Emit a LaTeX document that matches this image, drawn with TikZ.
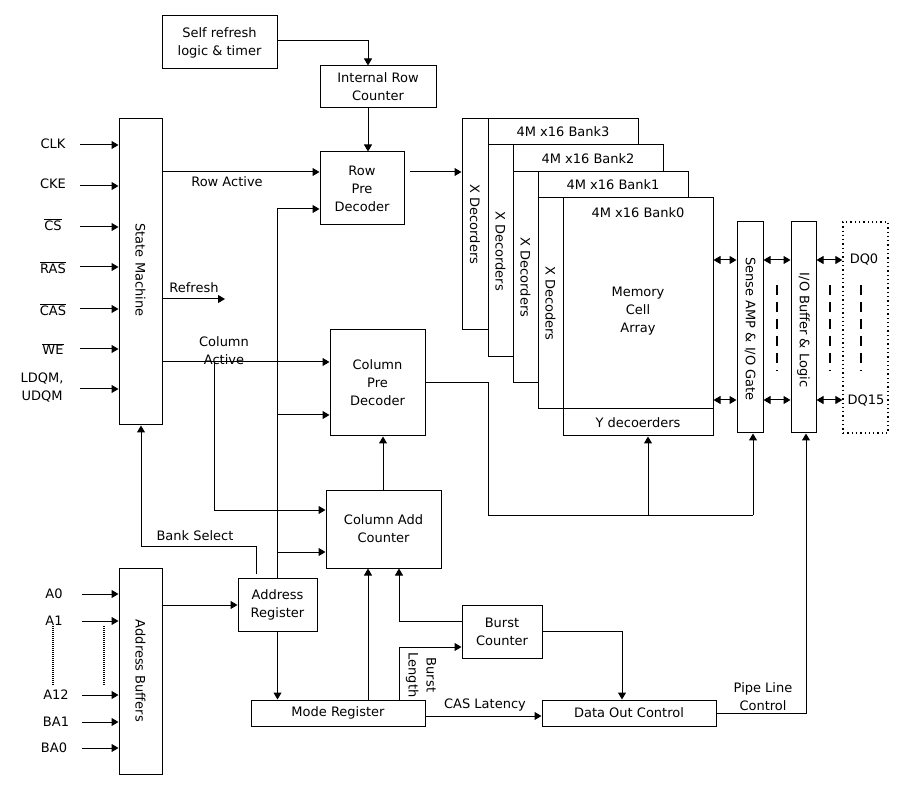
\documentclass[tikz,border=0pt]{standalone}
\usepackage{fontspec}
\setmainfont{DejaVu Sans}
\usetikzlibrary{arrows.meta}
\begin{document}
\begin{tikzpicture}[x=1pt,y=-1pt,
  every node/.style={font=\fontsize{13}{18}\selectfont},
  box/.style={draw, line width=1pt, fill=white, inner sep=0pt, align=center},
  conn/.style={line width=1pt},
  arr/.style={conn, -{Triangle[length=7pt,width=8pt]}},
  darr/.style={conn, {Triangle[length=7pt,width=8pt]}-{Triangle[length=7pt,width=8pt]}},
  lbl/.style={inner sep=0pt, align=center},
  vlbl/.style={lbl, rotate=-90},
  dqdash/.style={line width=2pt, dash pattern=on 10pt off 7pt},
  adots/.style={line width=1.5pt, dash pattern=on 1pt off 1pt},
]
\useasboundingbox (0,0) rectangle (916,791);

% ---- boxes ----
\node[box, minimum width=115pt, minimum height=53pt] (selfref) at (219.5,42.5) {Self refresh\\logic \& timer};
\node[box, minimum width=116pt, minimum height=42pt] (irc) at (378,87) {Internal Row\\Counter};
\node[box, minimum width=84pt, minimum height=73pt] (rpd) at (362,188.5) {Row\\Pre\\Decoder};
\node[box, minimum width=43pt, minimum height=306pt] (sm) at (140.5,272) {};
\node[vlbl] (smt) at (140.5,270) {State Machine};
\node[box, minimum width=95pt, minimum height=106pt] (cpd) at (377.5,383) {Column\\Pre\\Decoder};
\node[box, minimum width=115pt, minimum height=78pt] (cac) at (383.5,529) {Column Add\\Counter};
\node[box, minimum width=79pt, minimum height=53pt] (ar) at (277.5,604.5) {Address\\Register};
\node[box, minimum width=43pt, minimum height=206pt] (ab) at (140.5,671) {};
\node[vlbl] (abt) at (140.5,671) {Address Buffers};
\node[box, minimum width=174pt, minimum height=26pt] (mr) at (338,713) {Mode Register};
\node[box, minimum width=174pt, minimum height=26pt] (doc) at (629,713) {Data Out Control};
\node[box, minimum width=80pt, minimum height=53pt] (bc) at (502,631.5) {Burst\\Counter};
\node[box, minimum width=26pt, minimum height=211pt] (sa) at (750,327.5) {};
\node[vlbl] (sat) at (750,329) {Sense AMP \& I/O Gate};
\node[box, minimum width=25pt, minimum height=211pt] (io) at (803.5,327.5) {};
\node[vlbl] (iot) at (803.5,330) {I/O Buffer \& Logic};
\node[draw, line width=1.3pt, dash pattern=on 1.3pt off 3pt, inner sep=0pt, minimum width=45pt, minimum height=211pt] (dq) at (865.5,327.5) {};

% ---- banks ----
\node[box, minimum width=176pt, minimum height=211pt] (bank3) at (550,224.5) {};
\draw[conn] (488,119) -- (488,330);
\node[lbl] (b3t) at (563,132) {4M x16 Bank3};
\node[vlbl] (x3) at (475,224.5) {X Decorders};
\node[box, minimum width=175pt, minimum height=212pt] (bank2) at (575.5,251) {};
\draw[conn] (513,145) -- (513,357);
\node[lbl] (b2t) at (588,158.5) {4M x16 Bank2};
\node[vlbl] (x2) at (500.5,251) {X Decorders};
\node[box, minimum width=175pt, minimum height=211pt] (bank1) at (600.5,277.5) {};
\draw[conn] (538,172) -- (538,383);
\node[lbl] (b1t) at (613,185) {4M x16 Bank1};
\node[vlbl] (x1) at (525.5,277.5) {X Decorders};
\node[box, minimum width=175pt, minimum height=211pt] (bank0) at (625.5,303.5) {};
\draw[conn] (563,198) -- (563,409);
\node[lbl] (b0t) at (638,213) {4M x16 Bank0};
\node[vlbl] (x0) at (550.5,303.5) {X Decoders};
\node[lbl] (mca) at (638,311.5) {Memory\\Cell\\Array};
\node[box, minimum width=150pt, minimum height=27pt] (yd) at (638,422.5) {Y decoerders};

% ---- inputs of state machine ----
\node[lbl] (clk) at (53,144) {CLK};
\node[lbl] (cke) at (53,184) {CKE};
\node[lbl] (cs) at (53,225) {$\overline{\hbox{CS}}$};
\node[lbl] (ras) at (53,268) {$\overline{\hbox{RAS}}$};
\node[lbl] (cas) at (53,310) {$\overline{\hbox{CAS}}$};
\node[lbl] (we) at (53,349) {$\overline{\hbox{WE}}$};
\node[lbl] (dqm) at (42,388) {LDQM,\\UDQM};
\foreach \yy in {145,186,227,267,309,349,389}
  \draw[arr] (80,\yy) -- (sm.west |- 0,\yy);

% ---- address inputs ----
\node[lbl] (a0) at (54,594) {A0};
\node[lbl] (a1) at (54,621) {A1};
\node[lbl] (a12) at (56,695) {A12};
\node[lbl] (ba1) at (56,722) {BA1};
\node[lbl] (ba0) at (54,748) {BA0};
\foreach \yy in {594,621,695,722,748}
  \draw[arr] (82,\yy) -- (ab.west |- 0,\yy);
\draw[adots] (53,626) -- (53,685);
\draw[adots] (104,626) -- (104,685);

% ---- connectors ----
\draw[arr] (selfref.east |- 0,41) -| (irc.north -| 368,0);
\draw[arr] (irc.south -| 368,0) -- (rpd.north -| 368,0);
\draw[arr] (sm.east |- 0,172) -- (rpd.west |- 0,172);
\node[lbl] (rowact) at (227,182) {Row Active};
\draw[arr] (sm.east |- 0,299) -- (225,299);
\node[lbl] (refr) at (194,288) {Refresh};
\draw[arr] (sm.east |- 0,362) -- (cpd.west |- 0,362);
\draw[arr] (214,362) |- (cac.west |- 0,510);
\node[lbl] (colact) at (224,351) {Column\\Active};
\draw[arr] (ar.north) |- (rpd.west |- 0,209);
\draw[arr] (278,415) -- (cpd.west |- 0,415);
\draw[arr] (278,552) -- (cac.west |- 0,552);
\draw[arr] (410,172) -- (bank3.west |- 0,172);
\draw[arr] (cac.north -| 383,0) -- (cpd.south -| 383,0);
\draw[arr] (256,574) -- (256,546) -| (sm.south -| 141,0);
\node[lbl] (banksel) at (195,536) {Bank Select};
\draw[arr] (ab.east |- 0,605) -- (ar.west |- 0,605);
\draw[arr] (ar.south) -- (mr.north -| 277.5,0);
\draw[arr] (mr.north -| 368,0) -- (cac.south -| 368,0);
\draw[arr] (bc.west |- 0,621) -| (cac.south -| 399,0);
\draw[arr] (mr.north -| 399,0) |- (bc.west |- 0,647);
\node[vlbl] (blen) at (421,675) {Burst\\Length};
\draw[arr] (mr.east |- 0,716) -- (doc.west |- 0,716);
\node[lbl] (casl) at (485,705) {CAS Latency};
\draw[arr] (bc.east |- 0,631) -| (doc.north -| 622,0);
\draw[arr] (doc.east |- 0,713) -| (io.south -| 806,0);
\node[lbl] (pipe) at (763,697) {Pipe Line\\Control};
\draw[conn] (cpd.east |- 0,383) -| (488,515) -- (753,515);
\draw[arr] (753,515) -- (sa.south -| 753,0);
\draw[arr] (648,515) -- (yd.south -| 648,0);

% ---- data path ----
\foreach \yy in {260,400} {
  \draw[darr] (bank0.east |- 0,\yy) -- (sa.west |- 0,\yy);
  \draw[darr] (sa.east |- 0,\yy) -- (io.west |- 0,\yy);
  \draw[darr] (io.east |- 0,\yy) -- (dq.west |- 0,\yy);
}
\node[lbl] (dq0) at (864,260) {DQ0};
\node[lbl] (dq15) at (866,401) {DQ15};
\draw[dqdash] (777,285) -- (777,371);
\draw[dqdash] (830,285) -- (830,371);
\draw[dqdash] (861,285) -- (861,371);
\end{tikzpicture}
\end{document}
